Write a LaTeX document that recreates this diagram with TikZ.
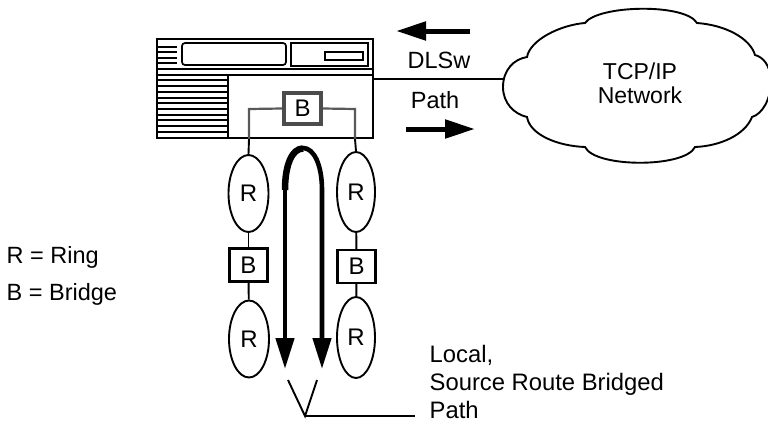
\documentclass[tikz,border=0pt]{standalone}
\usepackage{fontspec}
\setmainfont{Liberation Sans}
\usetikzlibrary{arrows.meta,shapes.geometric}
\tikzset{
  ring/.style={draw,line width=1.9pt,ellipse,minimum width=40pt,minimum height=77pt,inner sep=0pt,font=\fontsize{24}{24}\selectfont},
  bridge/.style={draw,line width=2.2pt,minimum width=38pt,minimum height=33pt,inner sep=0pt,font=\fontsize{24}{24}\selectfont},
  link/.style={line width=1.9pt},
  hatched/.style={line width=2.2pt,draw=black!65},
  thin part/.style={line width=1.6pt},
  thick path/.style={line width=4.6pt,-{Triangle[width=18pt,length=31pt]}},
  flow/.style={line width=5pt,-{Triangle[width=18pt,length=30pt]}},
  lbl/.style={inner sep=0pt,font=\fontsize{23.5}{28.5}\selectfont}
}
\begin{document}
\begin{tikzpicture}[x=1pt,y=-1pt]
\useasboundingbox (0,0) rectangle (768,421);
% chassis
\node[draw,line width=2pt,minimum width=216pt,minimum height=99pt,inner sep=0pt] (chassis) at (265,88.5) {};
\draw[thin part] (157,69) -- (373,69);
\draw[link] (157,75) -- (373,75);
\draw[link] (228,75) -- (228,138);
\foreach \y in {47,52,58,63}{\draw[thin part] (157,\y) -- (177,\y);}
\foreach \y in {80,86,92,98,103,109,115,120,126,132}{\draw[thin part] (157,\y) -- (228,\y);}
\node[draw,line width=1.7pt,rounded corners=3pt,minimum width=104pt,minimum height=22pt,inner sep=0pt] (slot) at (234,54) {};
\node[draw,line width=1.7pt,minimum width=77pt,minimum height=23pt,inner sep=0pt] (panel) at (329.5,54.5) {};
\node[draw,line width=1.7pt,minimum width=38pt,minimum height=8pt,inner sep=0pt] (led) at (344,56) {};
% central bridge
\node[bridge,draw=black!70,line width=4pt,minimum width=37pt,minimum height=31pt] (b0) at (302.5,108.5) {B};
\coordinate (lc) at (249,109);
\coordinate (rc) at (355,109);
% rings
\node[ring] (r1) at (248.5,193.5) {R};
\node[bridge] (b1) at (248.5,265) {B};
\node[ring] (r2) at (249,339) {R};
\node[ring,minimum width=38pt,minimum height=80pt] (r3) at (356,192) {R};
\node[bridge] (b2) at (356.5,266.5) {B};
\node[ring,minimum width=38pt,minimum height=81pt] (r4) at (356,337.5) {R};
\coordinate (lj) at (249,139);
\coordinate (rj) at (355,139);
\draw[hatched] (b0.west) -- (lc) -- (lj);
\draw[hatched] (b0.east) -- (rc) -- (rj);
\draw[link] (lj) -- (r1.north);
\draw[link] (rj) -- (r3.north);
\draw[link] (r1) -- (b1);
\draw[link] (b1) -- (r2);
\draw[link] (r3) -- (b2);
\draw[link] (b2) -- (r4);
% bridged path
\coordinate (pl) at (285,369);
\coordinate (pr) at (322,369);
\coordinate (ps) at (285,190);
\draw[line width=6.5pt] (ps) .. controls (285,165) and (292,148.5) .. (303,148.5);
\draw[thick path] (ps) .. controls (285,165) and (292,148) .. (303,148) .. controls (314,148) and (322,165) .. (322,190) -- (pr);
\draw[thick path] (ps) -- (pl);
% V pointer
\coordinate (v) at (305,416);
\coordinate (vl) at (288,380);
\coordinate (vr) at (317,380);
\coordinate (ve) at (415,416);
\draw[link] (vl) -- (v) -- (vr);
\draw[link] (v) -- (ve);
% DLSw
\node[lbl] (dlsw) at (439,60) {DLSw};
\node[lbl] (pth) at (435,100) {Path};
\coordinate (fl) at (470,31);
\coordinate (fle) at (396,31);
\coordinate (fr) at (406,129);
\coordinate (fre) at (475,129);
\draw[flow] (fl) -- (fle);
\draw[flow] (fr) -- (fre);
% cloud
\coordinate (cloud) at (503,79);
\draw[line width=1.9pt] (503,87) .. controls (503,70) and (514,59) .. (527,57)
  .. controls (530,40) and (560,25) .. (585,23)
  .. controls (598,5) and (685,3) .. (697,23)
  .. controls (725,25) and (750,38) .. (755,55)
  .. controls (763,57) and (770,65) .. (771,80)
  .. controls (771,100) and (762,114) .. (752,117)
  .. controls (745,135) and (720,146) .. (695,147)
  .. controls (685,168) and (595,168) .. (585,147)
  .. controls (558,146) and (530,135) .. (527,117)
  .. controls (514,114) and (503,103) .. (503,87) -- cycle;
\node[lbl,align=center,font=\fontsize{23}{24}\selectfont] (tcp) at (640,83) {TCP/IP\\Network};
\draw[link] (chassis.east |- cloud) -- (cloud);
% legend
\node[lbl,anchor=base west] (l1) at (6.5,263) {R = Ring};
\node[lbl,anchor=base west] (l2) at (6.5,300) {B = Bridge};
\node[lbl,anchor=north west,align=left,font=\fontsize{23.8}{28}\selectfont] (l3) at (429.5,345.5) {Local,\\Source Route Bridged\\Path};
\end{tikzpicture}
\end{document}
